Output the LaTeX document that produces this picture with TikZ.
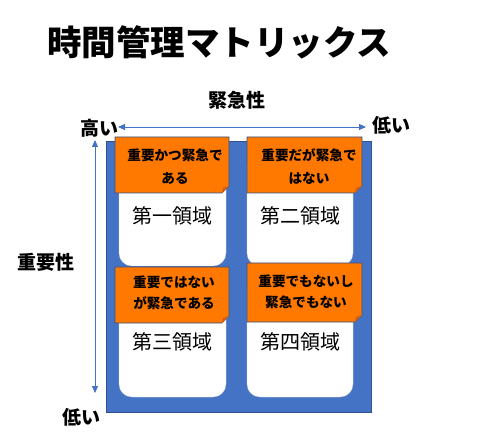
\documentclass[tikz,border=0pt]{standalone}
\usepackage{fontspec}
\setmainfont{Noto Sans CJK JP}
\usetikzlibrary{arrows.meta}
\definecolor{mblue}{RGB}{68,114,196}
\definecolor{mborder}{RGB}{47,82,143}
\definecolor{morange}{RGB}{255,120,0}
\definecolor{mfold}{RGB}{205,95,20}
\tikzset{
  axisarrow/.style={draw=mblue, line width=0.8pt, {Triangle[length=7pt,width=6pt]}-{Triangle[length=7pt,width=6pt]}},
  axislabel/.style={font=\fontsize{19}{22}\selectfont\bfseries, inner sep=0pt},
  cardbox/.style={fill=white, draw=white!85!black, line width=0.3pt, rounded corners=13pt},
  notebox/.style={fill=morange, draw=mborder, line width=0.6pt},
  notetext/.style={font=\fontsize{13.6}{23}\selectfont\bfseries, align=center, inner sep=0pt},
  cardtext/.style={font=\fontsize{20}{24}\selectfont, inner sep=0pt},
}
\newcommand{\stickynote}[4]{%
  \path[notebox] (#1,#2) -- (#3,#2) -- (#3,#4-7) -- (#3-7,#4) -- (#1,#4) -- cycle;
  \fill[mfold] (#3,#4-7) -- (#3-6,#4-5) -- (#3-7,#4) -- cycle;
}
\begin{document}
\begin{tikzpicture}[x=1pt,y=-1pt]
\useasboundingbox (0,0) rectangle (483,444);
\node[font=\fontsize{34.5}{40}\selectfont\bfseries, inner sep=0pt] (title) at (219,42) {時間管理マトリックス};

% matrix background
\path[fill=mblue, draw=mborder, line width=0.8pt] (106,141) rectangle (371,412);

% white cards
\path[cardbox] (119,150) rectangle (226,266);
\path[cardbox] (247,150) rectangle (353,266);
\path[cardbox] (119,280) rectangle (226,397);
\path[cardbox] (247,276) rectangle (353,397);

% sticky notes
\stickynote{115}{137}{229}{193}
\stickynote{247}{137}{362}{193}
\stickynote{115}{267}{229}{323}
\stickynote{247}{263}{362}{322}

\node[notetext] (n1) at (175,166.5) {重要かつ緊急で\\ある};
\node[notetext] (n2) at (309,166.5) {重要だが緊急で\\はない};
\node[notetext, font=\fontsize{13.6}{21}\selectfont\bfseries] (n3) at (174,292.5) {重要ではない\\が緊急である};
\node[notetext, font=\fontsize{13.6}{21}\selectfont\bfseries] (n4) at (306,292) {重要でもないし\\緊急でもない};

\node[cardtext] (c1) at (172,216) {第一領域};
\node[cardtext] (c2) at (300,216) {第二領域};
\node[cardtext] (c3) at (172,342) {第三領域};
\node[cardtext] (c4) at (300,342) {第四領域};

% axes
\node[axislabel] (urg) at (237,100) {緊急性};
\node[axislabel] (hi1) at (100,128) {高い};
\node[axislabel] (lo1) at (391,125) {低い};
\node[axislabel] (imp) at (46,262) {重要性};
\node[axislabel] (lo2) at (82,417) {低い};
\coordinate (hl) at (118,127);
\coordinate (hr) at (366,127);
\coordinate (vt) at (95,140);
\coordinate (vb) at (95,393);
\draw[axisarrow] (hl) -- (hr);
\draw[axisarrow] (vt) -- (vb);
\end{tikzpicture}
\end{document}
